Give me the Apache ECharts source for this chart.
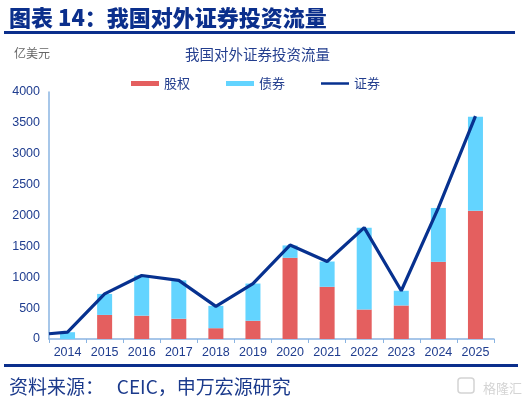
<!DOCTYPE html>
<html>
<head>
<meta charset="utf-8">
<script src="https://cdn.jsdelivr.net/npm/echarts@6/dist/echarts.min.js"></script>
<style>
  html, body { margin: 0; padding: 0; background: #fff; }
  #main { width: 526px; height: 404px; }
</style>
</head>
<body>
<div id="main"></div>
<script>
// 年份
var years = ['2014', '2015', '2016', '2017', '2018', '2019', '2020', '2021', '2022', '2023', '2024', '2025'];
// 股权
var equity = [0, 390, 378, 328, 175, 295, 1315, 845, 478, 543, 1250, 2075];
// 债券
var bonds = [110, 340, 650, 622, 362, 603, 200, 410, 1322, 238, 872, 1525];
// 证券 (line), first point sits at the axis start
var securitiesStart = 85;
var securities = [110, 730, 1028, 950, 528, 898, 1522, 1255, 1803, 781, 2122, 3610];
var yTicks = [0, 500, 1000, 1500, 2000, 2500, 3000, 3500, 4000];

var navy = '#0b2f8c';
var lineData = [[-0.5, securitiesStart]];
securities.forEach(function (v, i) {
    lineData.push([i, v]);
});

var chart = echarts.init(document.getElementById('main'));
chart.setOption({
    animation: false,
    textStyle: {fontFamily: 'Liberation Sans, Noto Sans CJK SC, sans-serif'},
    title: [{
        text: '图表 14：我国对外证券投资流量',
        left: 4, top: 2,
        textStyle: {fontSize: 22, fontWeight: 900, color: navy, fontFamily: 'Noto Sans CJK SC'}
    }, {
        text: '我国对外证券投资流量',
        left: 180, top: 42,
        textStyle: {fontSize: 14.5, fontWeight: 'normal', color: '#233e8e', fontFamily: 'Noto Sans CJK SC'}
    }, {
        text: '亿美元',
        left: 9, top: 42,
        textStyle: {fontSize: 12, fontWeight: 'normal', color: '#666', fontFamily: 'Noto Sans CJK SC'}
    }, {
        text: '资料来源：   CEIC，申万宏源研究',
        left: 4, top: 372,
        textStyle: {fontSize: 19, fontWeight: 'normal', color: '#1b3a8c', fontFamily: 'Noto Sans CJK SC'}
    }, {
        text: '格隆汇',
        left: 478, top: 377,
        textStyle: {fontSize: 13, fontWeight: 'normal', color: '#d4d4d4', fontFamily: 'Noto Sans CJK SC'}
    }],
    graphic: [{
        type: 'rect',
        shape: {x: 4, y: 31, width: 511, height: 3},
        style: {fill: navy}
    }, {
        type: 'rect',
        shape: {x: 4, y: 364, width: 514, height: 3},
        style: {fill: navy}
    }, {
        type: 'rect',
        shape: {x: 458, y: 378, width: 16, height: 15, r: 3},
        style: {fill: 'none', stroke: '#d4d4d4', lineWidth: 1.5}
    }],
    legend: {
        top: 72, left: 126,
        itemWidth: 28, itemHeight: 5, itemGap: 36,
        textStyle: {fontSize: 13, color: '#233e8e', fontFamily: 'Noto Sans CJK SC'},
        data: [
            {name: '股权', icon: 'rect'},
            {name: '债券', icon: 'rect'},
            {name: '证券', icon: 'path://M0,1.5 L28,1.5 L28,4 L0,4 Z'}
        ]
    },
    grid: {left: 49, right: 32, top: 92, bottom: 65},
    xAxis: [{
        type: 'category',
        data: years,
        axisLine: {lineStyle: {color: '#8ab4e2', width: 1.5}},
        axisTick: {show: true, length: 4, lineStyle: {color: '#8ab4e2'}},
        axisLabel: {fontSize: 12.5, color: '#1f3d8f', margin: 7}
    }, {
        type: 'value',
        min: -0.5, max: 11.5,
        show: false
    }],
    yAxis: {
        type: 'value',
        min: 0, max: 4000, interval: 500,
        axisLine: {show: true, onZero: false, lineStyle: {color: '#8ab4e2', width: 1.5}},
        axisTick: {show: false},
        splitLine: {show: false},
        axisLabel: {
            fontSize: 12.5, color: '#1f3d8f', margin: 9,
            formatter: function (v) { return yTicks.indexOf(v) >= 0 ? String(v) : ''; }
        }
    },
    series: [{
        name: '股权',
        type: 'bar',
        stack: 'total',
        barWidth: 15,
        itemStyle: {color: '#e45f5f'},
        data: equity
    }, {
        name: '债券',
        type: 'bar',
        stack: 'total',
        barWidth: 15,
        itemStyle: {color: '#63d4ff'},
        data: bonds
    }, {
        name: '证券',
        type: 'line',
        xAxisIndex: 1,
        showSymbol: false,
        symbol: 'none',
        lineStyle: {color: '#07318f', width: 3.2},
        itemStyle: {color: '#07318f'},
        data: lineData,
        z: 5
    }]
});
</script>
</body>
</html>
